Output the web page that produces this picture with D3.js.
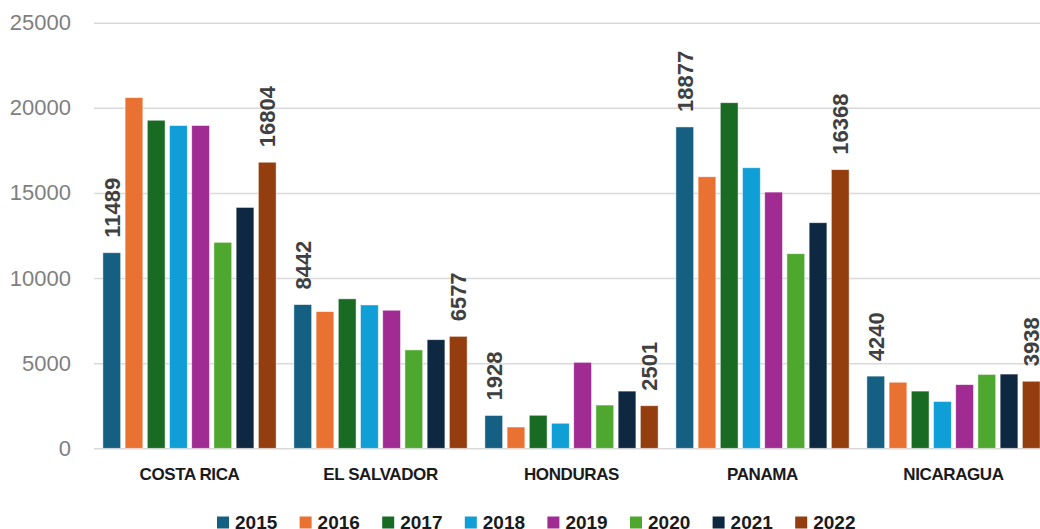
<!DOCTYPE html>
<html>
<head>
<meta charset="utf-8">
<script src="https://cdn.jsdelivr.net/npm/d3@7/dist/d3.min.js"></script>
<style>
  html, body { margin: 0; padding: 0; background: #fff; overflow: hidden; }
  svg { display: block; }
</style>
</head>
<body>
<svg id="chart" width="1040" height="529"></svg>
<script>
// Countries and yearly series
const countries = ["COSTA RICA", "EL SALVADOR", "HONDURAS", "PANAMA", "NICARAGUA"];
const years = ["2015", "2016", "2017", "2018", "2019", "2020", "2021", "2022"];
const colors = ["#156082", "#E97132", "#196B24", "#0F9ED5", "#A02B93", "#4EA72E", "#0E2841", "#943E0F"];

// Values per year, in country order
const v2015 = [11489, 8442, 1928, 18877, 4240];
const v2016 = [20600, 8030, 1250, 15950, 3880];
const v2017 = [19270, 8780, 1940, 20300, 3360];
const v2018 = [18960, 8420, 1470, 16480, 2750];
const v2019 = [18960, 8110, 5050, 15050, 3740];
const v2020 = [12100, 5780, 2540, 11430, 4340];
const v2021 = [14150, 6380, 3360, 13250, 4360];
const v2022 = [16804, 6577, 2501, 16368, 3938];
const series = [v2015, v2016, v2017, v2018, v2019, v2020, v2021, v2022];

// Years that carry value labels
const labelledYears = ["2015", "2022"];
const yTicks = [0, 5000, 10000, 15000, 20000, 25000];

const svg = d3.select("#chart");
const plotLeft = 94, plotRight = 1049, plotTop = 22.7, plotBottom = 448.3;

const x0 = d3.scaleBand().domain(countries).range([plotLeft, plotRight]).padding(0);
const x1 = d3.scaleBand().domain(years).range([0, x0.bandwidth()])
  .paddingInner(0.2).paddingOuter(0.4);
const y = d3.scaleLinear().domain([0, 25000]).range([plotBottom, plotTop]);

// Gridlines
const yAxis = d3.axisLeft(y).tickValues(yTicks).tickSize(-(plotRight - plotLeft)).tickFormat(d3.format("d")).tickPadding(23);
const gy = svg.append("g").attr("transform", `translate(${plotLeft},0)`).call(yAxis);
gy.select(".domain").remove();
gy.selectAll(".tick line").attr("stroke", "#d9d9d9").attr("stroke-width", 1.6);
gy.selectAll(".tick text")
  .attr("fill", "#7f7f7f")
  .attr("font-family", "'Liberation Sans', Arial, sans-serif")
  .attr("font-size", 22);

// Bars
const rows = [];
countries.forEach((c, ci) => {
  years.forEach((yr, yi) => {
    rows.push({ country: c, year: yr, value: series[yi][ci], color: colors[yi] });
  });
});

const bars = svg.append("g");
bars.selectAll("rect").data(rows).join("rect")
  .attr("x", d => x0(d.country) + x1(d.year))
  .attr("y", d => y(d.value))
  .attr("width", x1.bandwidth())
  .attr("height", d => y(0) - y(d.value))
  .attr("fill", d => d.color)
  .attr("stroke", "#ffffff")
  .attr("stroke-opacity", 0.6)
  .attr("stroke-width", 0.8);

// Value labels (rotated)
svg.append("g").selectAll("text")
  .data(rows.filter(d => labelledYears.includes(d.year)))
  .join("text")
  .attr("transform", d => {
    const cx = x0(d.country) + x1(d.year) + x1.bandwidth() / 2 + 8;
    const cy = y(d.value) - 15;
    return `translate(${cx},${cy}) rotate(-90)`;
  })
  .attr("fill", "#404040")
  .attr("font-family", "'Liberation Sans', Arial, sans-serif")
  .attr("font-weight", "bold")
  .attr("font-size", 22)
  .text(d => d.value);

// Category labels
svg.append("g").selectAll("text").data(countries).join("text")
  .attr("x", d => x0(d) + x0.bandwidth() / 2)
  .attr("y", 480)
  .attr("text-anchor", "middle")
  .attr("fill", "#1a1a1a")
  .attr("font-family", "'Liberation Sans', Arial, sans-serif")
  .attr("font-weight", "bold")
  .attr("font-size", 17)
  .attr("letter-spacing", -0.4)
  .text(d => d);

// Legend
const legend = svg.append("g").attr("transform", "translate(217,0)");
const item = legend.selectAll("g").data(years).join("g")
  .attr("transform", (d, i) => `translate(${i * 82.6},0)`);
item.append("rect")
  .attr("x", 0).attr("y", 516.5)
  .attr("width", 12).attr("height", 12)
  .attr("fill", (d, i) => colors[i]);
item.append("text")
  .attr("x", 18).attr("y", 528.5)
  .attr("fill", "#1a1a1a")
  .attr("font-family", "'Liberation Sans', Arial, sans-serif")
  .attr("font-weight", "bold")
  .attr("font-size", 19)
  .text(d => d);
</script>
</body>
</html>
